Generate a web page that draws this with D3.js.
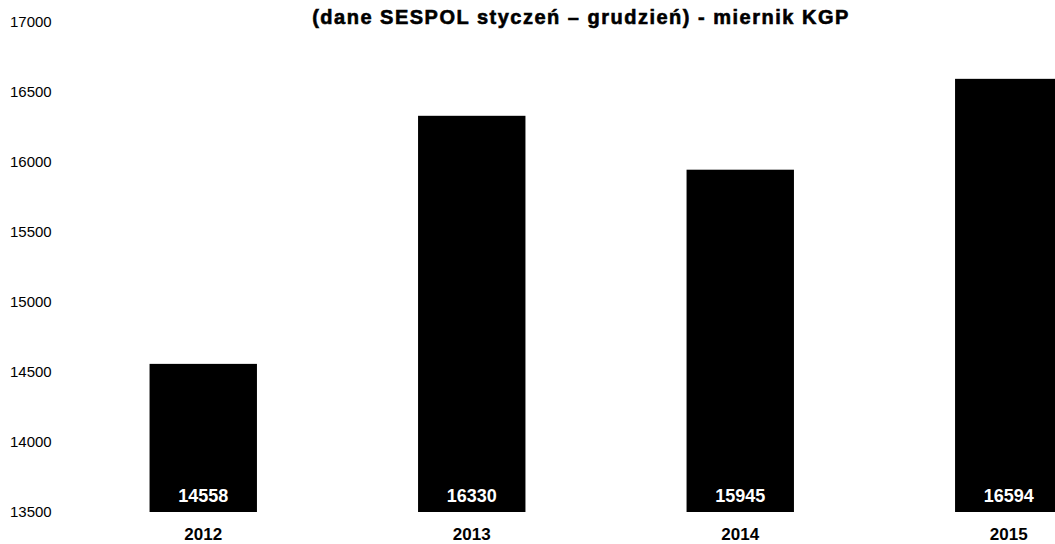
<!doctype html>
<html lang="pl">
  <head>
    <meta charset="utf-8">
    <script src="https://d3js.org/d3.v7.min.js"></script>
    <style>
      body { margin: 0; background: #fff; }
      svg { display: block; font-family: "Liberation Sans", Arial, sans-serif; }
    </style>
  </head>
  <body>
    <div id="chart"></div>
    <script>
      // dane
      const years = ["2012", "2013", "2014", "2015"];
      const values = [14558, 16330, 15945, 16594];
      const yTicks = [13500, 14000, 14500, 15000, 15500, 16000, 16500, 17000];
      const title = "(dane SESPOL styczeń – grudzień) - miernik KGP";

      const width = 1055, height = 544;

      const svg = d3.select("#chart")
        .append("svg")
          .attr("width", width)
          .attr("height", height);

      const x = d3.scaleBand()
        .domain(years)
        .range([69, 1143])
        .paddingInner(0.6)
        .paddingOuter(0.3);

      const y = d3.scaleLinear()
        .domain([13500, 16500])
        .range([512, 92]);

      // etykiety osi Y
      svg.append("g")
        .selectAll("text")
        .data(yTicks)
        .join("text")
          .attr("x", 10)
          .attr("y", d => y(d) + 5)
          .attr("font-size", 15)
          .attr("fill", "#000")
          .text(d => d);

      // słupki
      svg.append("g")
        .selectAll("rect")
        .data(values)
        .join("rect")
          .attr("x", (d, i) => x(years[i]))
          .attr("y", d => y(d))
          .attr("width", x.bandwidth())
          .attr("height", d => y(13500) - y(d))
          .attr("fill", "#000");

      // wartości w słupkach
      svg.append("g")
        .selectAll("text")
        .data(values)
        .join("text")
          .attr("x", (d, i) => x(years[i]) + x.bandwidth() / 2)
          .attr("y", 502)
          .attr("text-anchor", "middle")
          .attr("font-size", 18)
          .attr("font-weight", "bold")
          .attr("fill", "#fff")
          .text(d => d);

      // lata pod osią
      svg.append("g")
        .selectAll("text")
        .data(years)
        .join("text")
          .attr("x", d => x(d) + x.bandwidth() / 2)
          .attr("y", 540)
          .attr("text-anchor", "middle")
          .attr("font-size", 17)
          .attr("font-weight", "bold")
          .attr("fill", "#000")
          .text(d => d);

      // tytuł
      svg.append("text")
        .attr("x", 581)
        .attr("y", 24)
        .attr("text-anchor", "middle")
        .attr("font-size", 20)
        .attr("font-weight", "bold")
        .attr("letter-spacing", 1.5)
        .attr("stroke", "#000")
        .attr("stroke-width", 0.6)
        .attr("fill", "#000")
        .text(title);
    </script>
  </body>
</html>
